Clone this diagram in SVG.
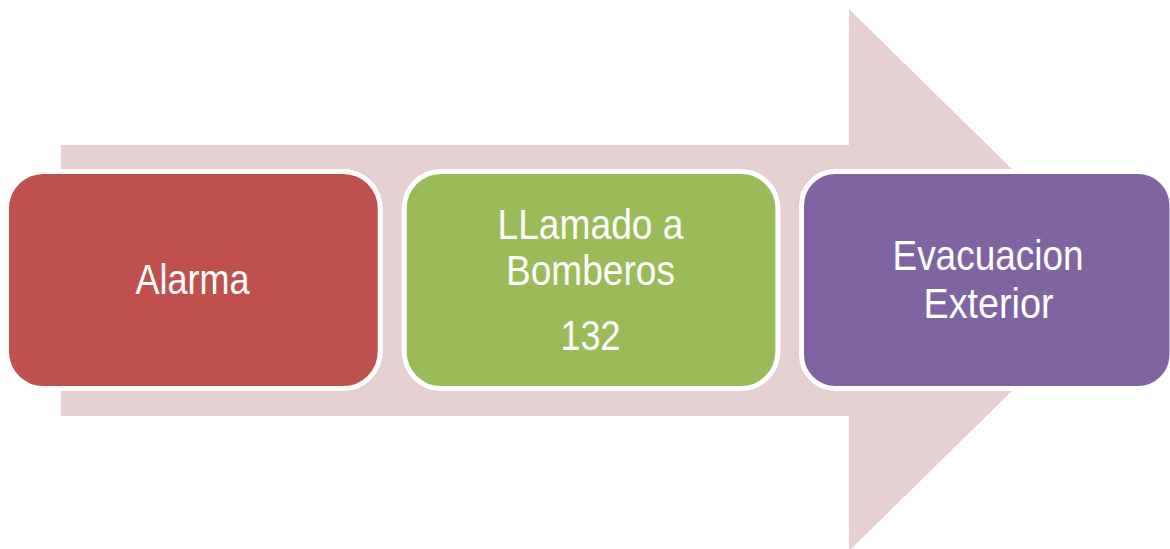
<svg xmlns="http://www.w3.org/2000/svg" width="1170" height="549" viewBox="0 0 1170 549">
<style>
.box{stroke:#FFFFFF;stroke-width:5}
.lbl{font-family:"Liberation Sans",Arial,sans-serif;font-size:43px;fill:#FFFFFF;text-anchor:middle}
</style>
<rect x="0" y="0" width="1170" height="549" fill="#FFFFFF"/>
<g id="connectors">
<path d="M61,145 H849 V9 L1125,280 L849,551 V416 H61 Z" fill="#E7D0D1"/>
</g>
<g id="node-alarma">
<rect class="box" x="6.5" y="171.5" width="373.7" height="217" rx="37" fill="#C0504D"/>
<text class="lbl" x="192.5" y="293.5" textLength="114" lengthAdjust="spacingAndGlyphs">Alarma</text>
</g>
<g id="node-bomberos">
<rect class="box" x="404.2" y="171.5" width="373.7" height="217" rx="37" fill="#9BBB59"/>
<text class="lbl" x="590.5" y="238.5" textLength="186" lengthAdjust="spacingAndGlyphs">LLamado a</text>
<text class="lbl" x="590.5" y="285" textLength="169" lengthAdjust="spacingAndGlyphs">Bomberos</text>
<text class="lbl" x="590.5" y="350" textLength="60" lengthAdjust="spacingAndGlyphs">132</text>
</g>
<g id="node-evacuacion">
<rect class="box" x="801.5" y="171.5" width="370.5" height="217" rx="34" fill="#8064A2"/>
<text class="lbl" x="988" y="270" textLength="191" lengthAdjust="spacingAndGlyphs">Evacuacion</text>
<text class="lbl" x="988.5" y="318" textLength="130" lengthAdjust="spacingAndGlyphs">Exterior</text>
</g>
</svg>
